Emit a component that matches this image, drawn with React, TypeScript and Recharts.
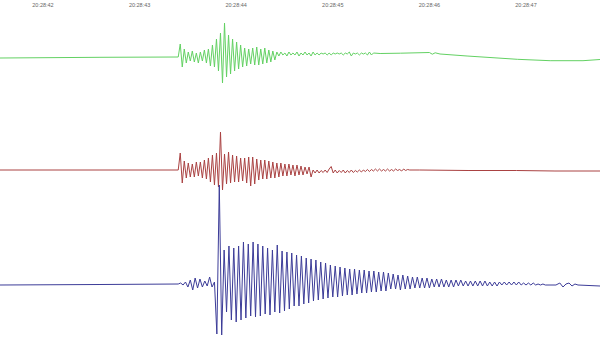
import { LineChart, Line, XAxis, YAxis } from 'recharts'

// seconds after 20:28:00
const TICKS = [42, 43, 44, 45, 46, 47]
const T_MIN = 41.555
const T_MAX = 47.766

// every burst starts at the same time; sample rate differs per channel
const BURST_T0 = 43.4

// green channel
const GREEN_SPS = 48
const GREEN_HEAD: [number, number][] = [[41.555, -1], [42.59, -0.3]]
const GREEN_BURST = [
  0, 13, -10, 8, -6, 5, -4, 6, -5, 4, -6, 5, -4, 7, -6, 8, -9, 12, -10, 18,
  -14, 24, -26, 34, -20, 22, -17, 18, -14, 15, -12, 12, -10, 9, -9, 8, -7, 9, -8, 10,
  -8, 8, -7, 9, -6, 7, -5, 6, -3, 5,
  1, 5, 2, 4, 1, 5, 2, 4, 2, 5, 1, 4, 2, 5, 2, 4, 1, 5, 2, 4,
  2, 4, 3, 4, 2, 4, 2, 4, 3, 4, 3, 4, 2, 4, 3, 5, 1, 4, 3, 4,
  2, 4, 3, 4, 2, 5, 2, 4,
]
const GREEN_TAIL: [number, number][] = [
  [45.49, 3.5], [45.7, 3.8], [46.0, 4.5], [46.03, 2.8], [46.06, 4.2], [46.11, 3],
  [46.39, 1], [46.91, -2.3], [47.25, -3.7], [47.59, -3.7], [47.766, -2.5],
]

// red channel
const RED_SPS = 48
const RED_HEAD: [number, number][] = [[41.555, 0], [42.59, 0]]
const RED_BURST = [
  0, 17, -13, 9, -8, 7, -7, 6, -7, 8, -6, 8, -8, 10, -9, 12, -12, 15, -15, 17,
  -17, 38, -20, 16, -14, 18, -13, 15, -12, 14, -12, 12, -11, 12, -13, 13, -16, 13, -14, 11,
  -10, 10, -9, 10, -9, 9, -8, 8, -8, 7, -7, 7, -6, 6, -6, 6, -5, 5, -6, 5,
  -5, 4, -5, 3, -4, 3, -7, 0, -3, 0, -3, -0.5, -2.5, 0, -2.5, 1, 3.5, -3, 0, -3,
  -0.5, -2.5, 0, -3, -0.5, -2.5, 0, -2.5, -0.5, -2, 0, -2, 0, -1.5, 0.5, -1.5, 0.5, -1, 1, -1,
  1, -1, 0.5, -1, 1, -1, 0.5, -1, 1, -0.5, 0.5, -1, 1, -0.5, 0.5, 0,
]
const RED_TAIL: [number, number][] = [
  [45.9, 0], [46.4, -0.5], [46.9, -0.5], [47.3, -1], [47.766, -1],
]

// blue channel
const BLUE_SPS = 40
const BLUE_HEAD: [number, number][] = [[41.555, -1], [42.59, -0.5]]
const BLUE_BURST = [
  0, 1, -1, 2, -3, 4, -6, 6, -4, 5, -3, 3, -2, 7, -3, 2, -50, 99, -51, 34,
  -28, 38, -36, 36, -38, 38, -36, 42, -34, 40, -32, 42, -33, 40, -32, 38, -30, 36, -31, 34,
  -28, 39, -29, 33, -27, 32, -25, 31, -22, 29, -22, 28, -20, 26, -19, 25, -17, 24, -16, 22,
  -15, 21, -14, 19, -13, 18, -13, 17, -12, 16, -11, 15, -11, 15, -10, 14, -9, 14, -9, 13,
  -8, 13, -8, 12, -7, 12, -7, 11, -5, 10, -5, 9, -6, 9, -5, 8, -5, 7, -4, 7,
  -4, 6, -4, 6, -4, 5, -3, 5, -3, 5, -3, 4, -3, 4, -3, 4, -2, 4, -2, 3,
  -2, 3, -2, 3, -2, 3, -2, 3, -2, 2, -2, 2, -2, 2, -1, 2, -1, 2, -1, 2,
  -1, 2, -1, 1, -1, 1, -1, 1, -1, 0, -1, 0, -1,
]
const BLUE_TAIL: [number, number][] = [
  [47.248, -1], [47.31, -1], [47.35, 1], [47.383, -3], [47.414, 0], [47.445, 1],
  [47.476, -2], [47.507, 0], [47.538, -1], [47.766, -2],
]

// layout: baseline of each trace, in px from the top of the page
const W = 600
const H = 341
const AXIS_H = 9
const GREEN_Y = 57
const RED_Y = 170
const BLUE_Y = 284

function buildTrace(
  head: [number, number][], burst: number[], sps: number,
  tail: [number, number][], baseline: number,
) {
  const pts = [
    ...head.map(([t, v]) => ({ t, v })),
    ...burst.map((v, i) => ({ t: BURST_T0 + i / sps, v })),
    ...tail.map(([t, v]) => ({ t, v })),
  ]
  return pts.map(p => ({ t: p.t, v: p.v - baseline }))
}

const green = buildTrace(GREEN_HEAD, GREEN_BURST, GREEN_SPS, GREEN_TAIL, GREEN_Y)
const red = buildTrace(RED_HEAD, RED_BURST, RED_SPS, RED_TAIL, RED_Y)
const blue = buildTrace(BLUE_HEAD, BLUE_BURST, BLUE_SPS, BLUE_TAIL, BLUE_Y)

export default function App() {
  return (
    <div style={{ position: 'absolute', left: 0, top: 0, background: '#fff' }}>
      <LineChart width={W} height={H} margin={{ top: 0, right: 0, bottom: 0, left: 0 }}>
        <XAxis
          dataKey="t"
          type="number"
          orientation="top"
          domain={[T_MIN, T_MAX]}
          allowDataOverflow
          ticks={TICKS}
          tickFormatter={(t: number) => `20:28:${t}`}
          height={AXIS_H}
          tickSize={0}
          tickMargin={2}
          axisLine={false}
          tickLine={false}
          tick={{ fontSize: 5.5, fill: '#666', fontFamily: 'Liberation Sans, Arial, sans-serif' }}
        />
        <YAxis hide type="number" domain={[-H, -AXIS_H]} allowDataOverflow />
        <Line data={green} dataKey="v" stroke="#63d163" strokeWidth={1} dot={false} type="linear" isAnimationActive={false} />
        <Line data={red} dataKey="v" stroke="#aa4242" strokeWidth={1} dot={false} type="linear" isAnimationActive={false} />
        <Line data={blue} dataKey="v" stroke="#3c3c98" strokeWidth={1} dot={false} type="linear" isAnimationActive={false} />
      </LineChart>
    </div>
  )
}
